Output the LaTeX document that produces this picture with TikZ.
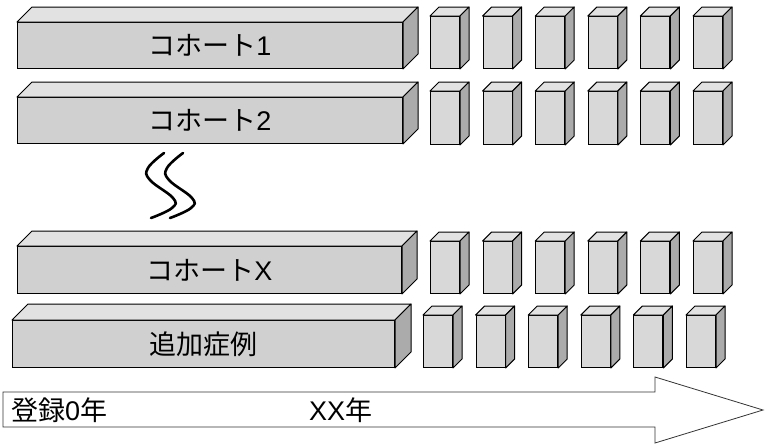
\documentclass[tikz,border=0pt]{standalone}
\usepackage{fontspec}
\setmainfont{Liberation Sans}
\newfontfamily\cjk{Noto Sans CJK JP}
\definecolor{frontgray}{HTML}{D0D0D0}
\definecolor{topgray}{HTML}{E2E2E2}
\definecolor{sidegray}{HTML}{ABABAB}
\definecolor{cubegray}{HTML}{D8D8D8}
\tikzset{
  bigfront/.style={draw=black, line width=1pt, fill=frontgray, inner sep=0pt,
    anchor=north west, font=\fontsize{27}{27}\selectfont},
  cubefront/.style={draw=black, line width=1pt, fill=cubegray, inner sep=0pt,
    anchor=north west, minimum width=29pt},
  topface/.style={draw=black, line width=1pt, fill=topgray, line join=round},
  sideface/.style={draw=black, line width=1pt, fill=sidegray, line join=round},
  squig/.style={draw=black, line width=2.6pt, line cap=round},
  arrowbody/.style={draw=black!80, line width=0.8pt, fill=white, line join=miter},
  axislabel/.style={anchor=west, inner sep=0pt, font=\fontsize{27}{27}\selectfont}
}
\newcommand\boxfaces[2]{%
  \path[topface] (#1.north west) -- ([shift={(#2,-#2)}]#1.north west)
    -- ([shift={(#2,-#2)}]#1.north east) -- (#1.north east) -- cycle;
  \path[sideface] (#1.north east) -- ([shift={(#2,-#2)}]#1.north east)
    -- ([shift={(#2,-#2)}]#1.south east) -- (#1.south east) -- cycle;
}
\begin{document}
\begin{tikzpicture}[x=1pt, y=-1pt]
\useasboundingbox (0,0) rectangle (766,445);

% big bars
\node[bigfront, minimum width=385pt, minimum height=46pt] (bar1) at (17,22) {{\cjk コホート}1};
\boxfaces{bar1}{15}
\node[bigfront, minimum width=385pt, minimum height=46pt] (bar2) at (17,97) {{\cjk コホート}2};
\boxfaces{bar2}{15}
\node[bigfront, minimum width=384pt, minimum height=47pt] (barX) at (17,246) {{\cjk コホート}X};
\boxfaces{barX}{15}
\node[bigfront, minimum width=382pt, minimum height=47pt] (barA) at (12,320) {{\cjk 追加症例}};
\boxfaces{barA}{16}

% small cubes
\foreach \i in {0,...,5} {
  \node[cubefront, minimum height=52pt] (ca\i) at ({430+52.6*\i},16) {};
  \boxfaces{ca\i}{9}
  \node[cubefront, minimum height=53pt] (cb\i) at ({430+52.6*\i},91) {};
  \boxfaces{cb\i}{9}
  \node[cubefront, minimum height=52pt] (cx\i) at ({430+52.6*\i},241) {};
  \boxfaces{cx\i}{9}
  \node[cubefront, minimum height=52pt] (cd\i) at ({423+52.6*\i},315) {};
  \boxfaces{cd\i}{9}
}

% omission marks
\draw[squig] plot[smooth, tension=0.7] coordinates {(164,153) (148,168) (150,180) (173,198) (172,208) (151,218)};
\draw[squig] plot[smooth, tension=0.7] coordinates {(183,153) (167,168) (169,180) (192,198) (191,208) (170,218)};

% time arrow
\coordinate (atip) at (763,410);
\path[arrowbody] (3,392) -- (655,392) -- (655,377) -- (atip) -- (655,443)
  -- (655,427) -- (3,427) -- cycle;
\node[axislabel] (lab0) at (11,410) {{\cjk 登録}0{\cjk 年}};
\node[axislabel] (labXX) at (309,410) {XX{\cjk 年}};
\end{tikzpicture}
\end{document}
